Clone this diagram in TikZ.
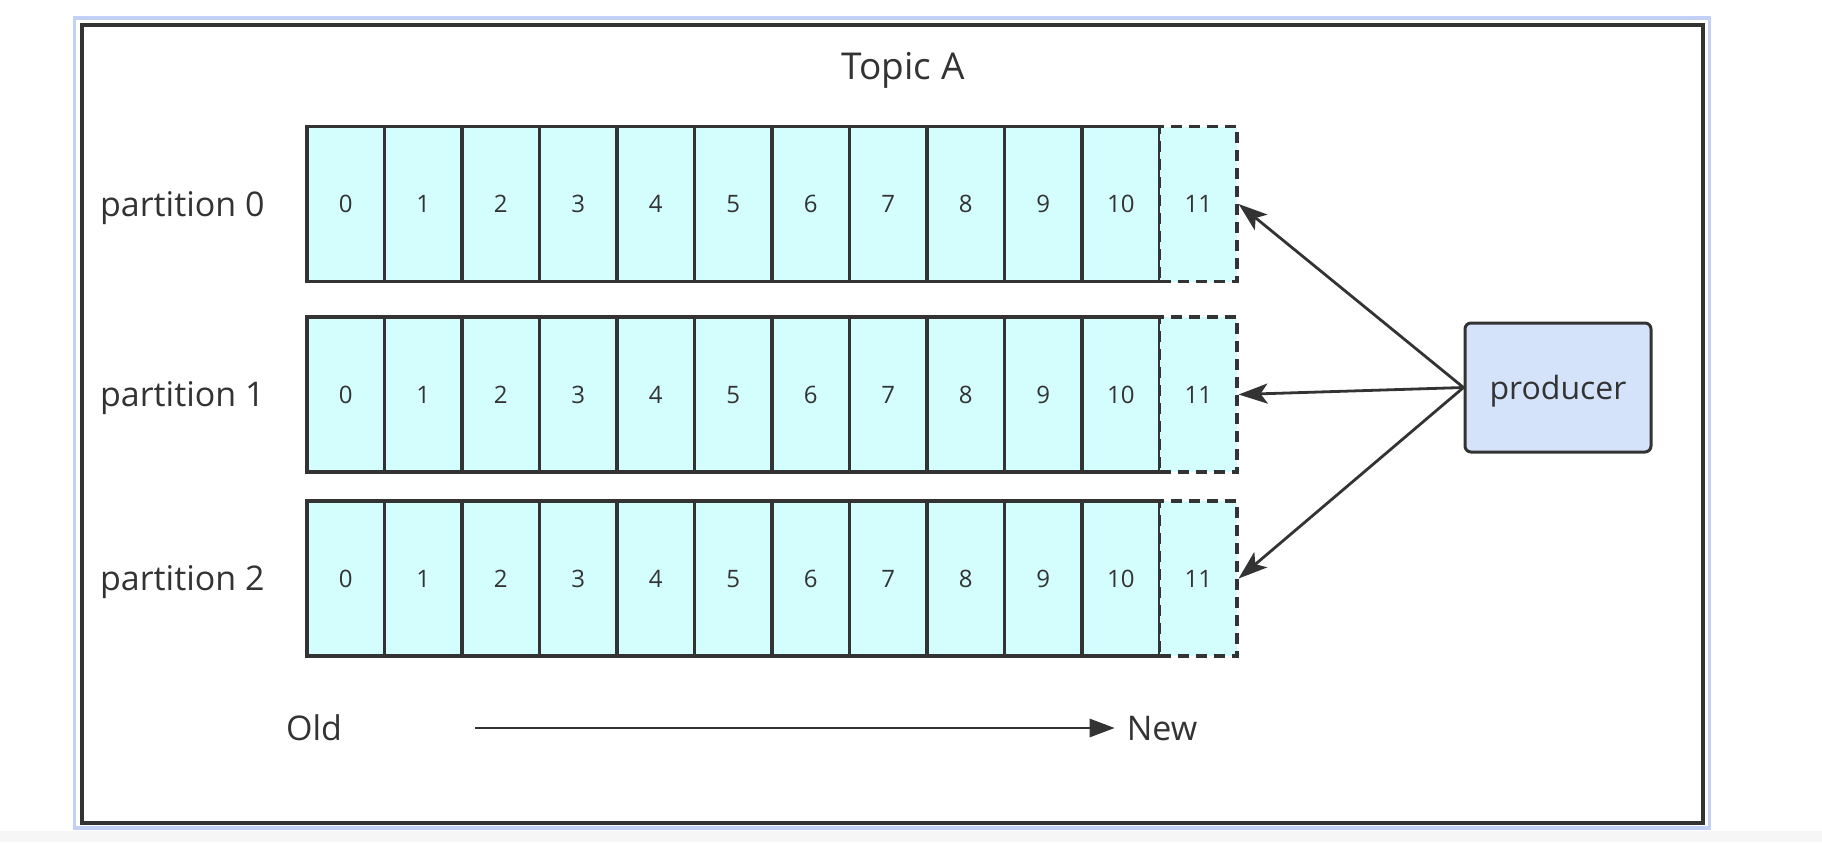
\documentclass[tikz,border=0pt]{standalone}
\usepackage{fontspec}
\setmainfont{Open Sans}
\usepackage{tikz}
\usetikzlibrary{arrows.meta}

\definecolor{cellcyan}{HTML}{D4FEFE}
\definecolor{prodblue}{HTML}{D4E3FA}
\definecolor{inkgray}{HTML}{333333}
\definecolor{selblue}{HTML}{C3D0F5}

\begin{document}
\begin{tikzpicture}[x=0.5pt,y=-0.5pt,
    cell/.style={draw=inkgray,fill=cellcyan,line width=1.6pt,minimum width=38.75pt,
      minimum height=77.5pt,inner sep=0pt,text=inkgray,text depth=0pt,
      font=\fontsize{12}{14}\selectfont},
    newcell/.style={cell,preaction={draw=cellcyan,line width=1.7pt},dash pattern=on 5.5pt off 3.5pt},
    plaintext/.style={text=inkgray,text depth=0pt,font=\fontsize{17}{20}\selectfont},
    feed/.style={draw=inkgray,line width=1.4pt,-{Stealth[length=14.5pt,width=10pt,inset=3.5pt]}}]

      \useasboundingbox (0,0) rectangle (1822,842);
      \fill[white] (0,0) rectangle (1822,842);
      \fill[gray!7] (0,831) rectangle (1822,842);

      % frames
      \draw[selblue,line width=1.6pt] (74.5,18) rectangle (1709.5,828);
      \draw[inkgray,line width=2pt] (82,25) rectangle (1703,823);

      \node[plaintext,font=\fontsize{18.5}{22}\selectfont] (topic) at (903,66) {Topic A};

      % partitions
      \foreach \r/\y in {0/204,1/394.5,2/578.5} {
        \node[plaintext,anchor=west] (part\r) at (93,\y) {partition \r};
        \foreach \i in {0,...,10}
          \node[cell] (c\r-\i) at (345.75+77.5*\i,\y) {\i};
        \node[newcell] (c\r-11) at (345.75+77.5*11,\y) {11};
      }

      \node[draw=inkgray,fill=prodblue,rounded corners=3pt,line width=1.5pt,
        minimum width=93pt,minimum height=64.5pt,text=inkgray,text depth=0pt,
        font=\fontsize{16}{19}\selectfont] (producer) at (1558,387.5) {producer};

      \foreach \r in {0,1,2}
        \draw[feed] (producer.west) -- (c\r-11.east);

      % old -> new
      \node[plaintext] (old) at (314,728) {Old};
      \node[plaintext] (new) at (1162,728) {New};
      \draw[inkgray,line width=1.4pt,-{Triangle[length=12.5pt,width=9pt]},
        shorten <=63pt,shorten >=2.5pt] (old) -- (new);
    \end{tikzpicture}
\end{document}
